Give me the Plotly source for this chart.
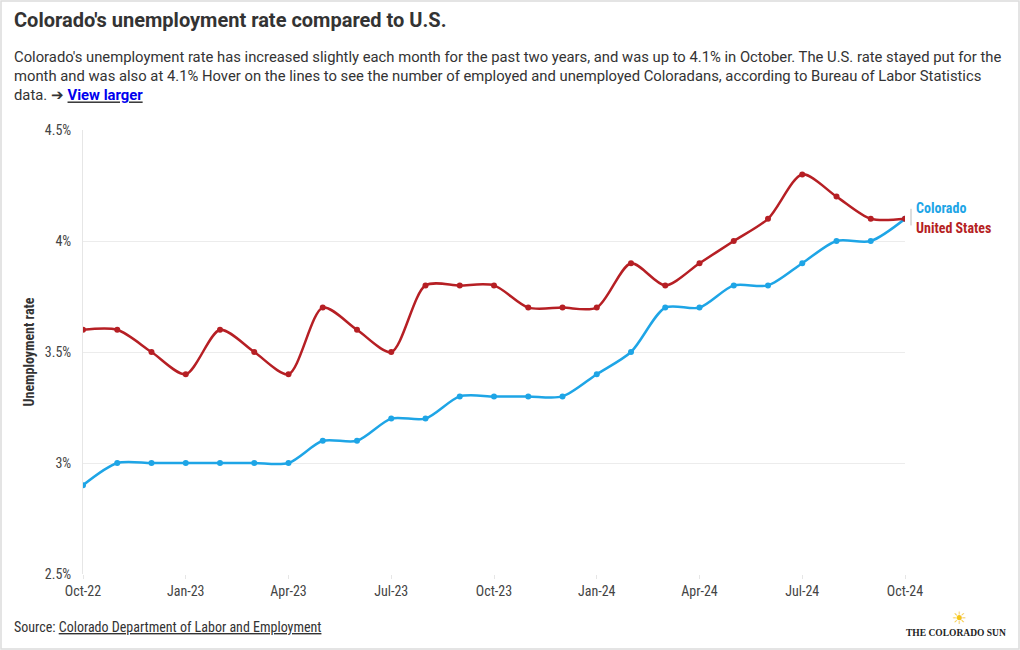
import plotly.graph_objects as go

months = ["Oct-22","Nov-22","Dec-22","Jan-23","Feb-23","Mar-23","Apr-23","May-23","Jun-23",
          "Jul-23","Aug-23","Sep-23","Oct-23","Nov-23","Dec-23","Jan-24","Feb-24","Mar-24",
          "Apr-24","May-24","Jun-24","Jul-24","Aug-24","Sep-24","Oct-24"]
colorado = [2.9,3.0,3.0,3.0,3.0,3.0,3.0,3.1,3.1,3.2,3.2,3.3,3.3,3.3,3.3,3.4,3.5,3.7,3.7,3.8,3.8,3.9,4.0,4.0,4.1]
us = [3.6,3.6,3.5,3.4,3.6,3.5,3.4,3.7,3.6,3.5,3.8,3.8,3.8,3.7,3.7,3.7,3.9,3.8,3.9,4.0,4.1,4.3,4.2,4.1,4.1]
x_ticks = ["Oct-22","Jan-23","Apr-23","Jul-23","Oct-23","Jan-24","Apr-24","Jul-24","Oct-24"]
y_ticks = [2.5,3,3.5,4,4.5]
y_labels = ["2.5%","3%","3.5%","4%","4.5%"]

CO_COLOR = "#1ea5e6"
US_COLOR = "#b61f24"
COND = "Roboto Condensed, Liberation Sans Narrow, Arial Narrow, Roboto, sans-serif"
ROBO = "Roboto, Noto Sans, sans-serif"

W, H = 1020, 650
l, r, t, b = 83, 115, 130, 76
pw, ph = W - l - r, H - t - b

idx = list(range(len(months)))
fig = go.Figure()
fig.add_trace(go.Scatter(x=idx, y=colorado, name="Colorado", mode="lines+markers",
                         line=dict(color=CO_COLOR, width=2.5, shape="spline", smoothing=0.8),
                         marker=dict(size=6, color=CO_COLOR)))
fig.add_trace(go.Scatter(x=idx, y=us, name="United States", mode="lines+markers",
                         line=dict(color=US_COLOR, width=2.5, shape="spline", smoothing=0.8),
                         marker=dict(size=6, color=US_COLOR)))

tickpos = [months.index(tk) for tk in x_ticks]
fig.update_xaxes(range=[0, len(months) - 1], tickvals=tickpos, ticktext=x_ticks,
                 showgrid=False, zeroline=False, showline=False,
                 ticks="outside", ticklen=4, tickcolor="#e6e6e6",
                 tickfont=dict(family=COND, size=14, color="#444"))
fig.update_yaxes(range=[2.5, 4.5], tickvals=y_ticks, ticktext=y_labels,
                 showgrid=True, gridcolor="#ececec", gridwidth=1, zeroline=False,
                 showline=True, linecolor="#e6e6e6", linewidth=1,
                 ticks="", ticklabelstandoff=8, tickfont=dict(family=COND, size=14, color="#444"),
                 title=dict(text="<b>Unemployment rate</b>", standoff=6,
                            font=dict(family=COND, size=14, color="#333")))

# End labels
fig.add_annotation(x=len(months) - 1, y=colorado[-1], text="<b>Colorado</b>", xref="x", yref="y",
                   showarrow=False, xanchor="left", xshift=9, yshift=11,
                   font=dict(family=COND, size=14, color=CO_COLOR))
fig.add_annotation(x=len(months) - 1, y=us[-1], text="<b>United States</b>", xref="x", yref="y",
                   showarrow=False, xanchor="left", xshift=9, yshift=-9,
                   font=dict(family=COND, size=14, color=US_COLOR))


def P(px, py, text, size, family, color, xanchor="left"):
    fig.add_annotation(x=(px - l) / pw, y=(H - b - py) / ph, xref="paper", yref="paper", text=text,
                       showarrow=False, xanchor=xanchor, yanchor="middle", align="left",
                       font=dict(family=family, size=size, color=color))


desc = ("Colorado's unemployment rate has increased slightly each month for the past two years, and was up to 4.1% in October. The U.S. rate stayed put for the<br>"
        "month and was also at 4.1% Hover on the lines to see the number of employed and unemployed Coloradans, according to Bureau of Labor Statistics<br>"
        "data. ➔ <b><u><span style='color:#0000ee'>View larger</span></u></b>")

P(12, 20, "<b>Colorado's unemployment rate compared to U.S.</b>", 20, ROBO, "#333")
P(12, 76, desc, 14.8, ROBO, "#333")
P(12, 627, "Source: <u>Colorado Department of Labor and Employment</u>", 14, COND, "#333")
P(1008, 633, "<b>THE COLORADO SUN</b>", 9.5, "Liberation Serif, DejaVu Serif, serif", "#222", xanchor="right")
P(959, 618, "☀", 17, "DejaVu Sans", "#f5c518", xanchor="center")

fig.update_layout(
    width=W, height=H,
    margin=dict(l=l, r=r, t=t, b=b),
    paper_bgcolor="white", plot_bgcolor="white",
    showlegend=False,
    font=dict(family=COND, color="#333"),
)
fig.add_shape(type="rect", xref="paper", yref="paper", x0=(1 - l) / pw, x1=(W - 1 - l) / pw,
              y0=(H - b - (H - 1)) / ph, y1=(H - b - 1) / ph, line=dict(color="#dcdcdc", width=1.5))
fig.add_shape(type="line", xref="paper", yref="y", x0=(911 - l) / pw, x1=(911 - l) / pw, y0=4.07, y1=4.145,
              line=dict(color="#bbbbbb", width=1))

fig.write_html("out.html", config={"displayModeBar": False},
               post_script="document.body.style.margin='0';document.body.style.padding='0';")
